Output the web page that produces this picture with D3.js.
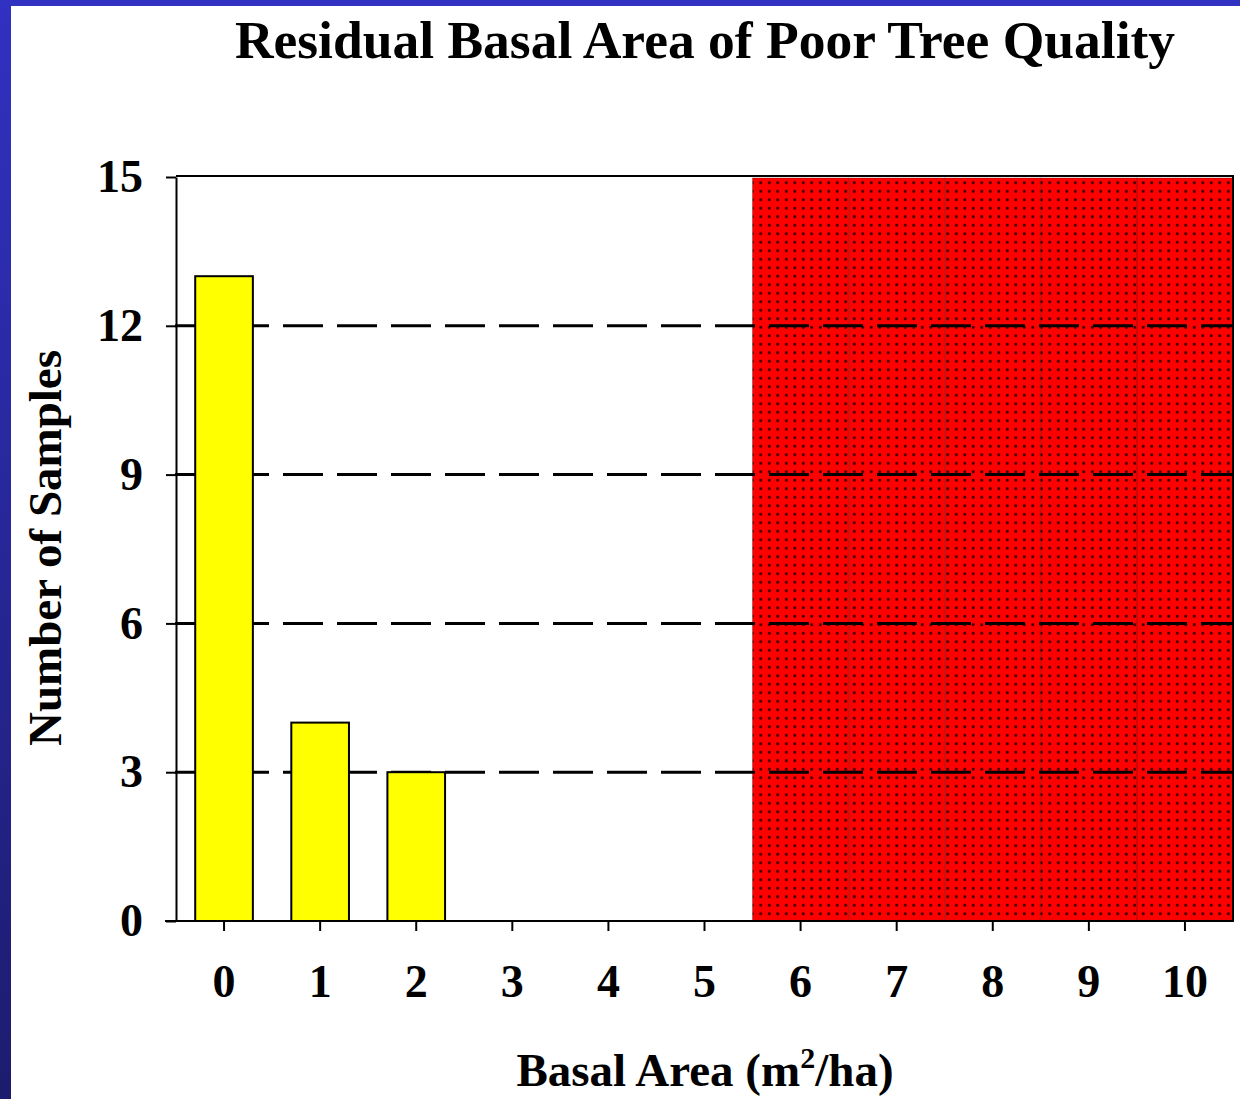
<!DOCTYPE html>
<html>
<head>
<meta charset="utf-8">
<script src="https://cdn.jsdelivr.net/npm/d3@7"></script>
<style>
  body { margin: 0; background: #fff; }
  svg { display: block; }
  text { font-family: "Times New Roman", "Liberation Serif", serif; font-weight: bold; fill: #000; }
</style>
</head>
<body>
<svg id="chart" width="1240" height="1099"></svg>
<script>
// data
var categories = ["0", "1", "2", "3", "4", "5", "6", "7", "8", "9", "10"];
var sampleCounts = [13, 4, 3, 0, 0, 0, 0, 0, 0, 0, 0];
var shadedCategories = ["6", "7", "8", "9", "10"];
var shadedTop = 15;
var yTicks = [0, 3, 6, 9, 12, 15];
var gridValues = [3, 6, 9, 12];

var svg = d3.select("#chart");
var w = +svg.attr("width");
var h = +svg.attr("height");

var defs = svg.append("defs");
var grad = defs.append("linearGradient").attr("id", "slideBg")
    .attr("x1", 0).attr("y1", 0).attr("x2", 0).attr("y2", 1);
grad.append("stop").attr("offset", "0%").attr("stop-color", "#3131c2");
grad.append("stop").attr("offset", "100%").attr("stop-color", "#1c1c6e");

var dots = defs.append("pattern").attr("id", "dots")
    .attr("patternUnits", "userSpaceOnUse")
    .attr("width", 8.5).attr("height", 8.5);
dots.append("rect").attr("width", 8.5).attr("height", 8.5).attr("fill", "#ff0000");
dots.append("rect").attr("x", 3).attr("y", 3).attr("width", 2.5).attr("height", 2.5)
    .attr("fill", "#000").attr("opacity", 0.85);

// slide background with blue border on top and left
svg.append("rect").attr("width", w).attr("height", h).attr("fill", "url(#slideBg)");
svg.append("rect").attr("x", 11).attr("y", 6).attr("width", w - 11).attr("height", h - 6).attr("fill", "#fff");

// scales
var plotLeft = 176, plotRight = 1233, plotTop = 177, plotBottom = 921;
var x = d3.scaleBand().domain(categories).range([plotLeft, plotRight]).padding(0);
var y = d3.scaleLinear().domain([0, 15]).range([plotBottom, plotTop]);
var barW = x.bandwidth() * 0.6;

// shaded (unacceptable) zone
svg.append("g").selectAll("rect")
    .data(shadedCategories)
    .enter()
    .append("rect")
    .attr("x", function (d) { return x(d); })
    .attr("y", y(shadedTop) + 1)
    .attr("width", x.bandwidth())
    .attr("height", y(0) - y(shadedTop) - 1)
    .attr("fill", "url(#dots)")
    .attr("stroke", "rgba(90,0,0,0.35)")
    .attr("stroke-width", 1);

// dashed grid lines
svg.append("g").selectAll("line")
    .data(gridValues)
    .enter()
    .append("line")
    .attr("x1", plotLeft - 1).attr("x2", plotRight + 1)
    .attr("y1", function (d) { return y(d); })
    .attr("y2", function (d) { return y(d); })
    .attr("stroke", "#000")
    .attr("stroke-width", 3)
    .attr("stroke-dasharray", "40,14");

// yellow bars
svg.append("g").selectAll("rect")
    .data(sampleCounts.filter(function (d) { return d > 0; }))
    .enter()
    .append("rect")
    .attr("x", function (d, i) { return x(categories[i]) + (x.bandwidth() - barW) / 2; })
    .attr("y", function (d) { return y(d); })
    .attr("width", barW)
    .attr("height", function (d) { return y(0) - y(d); })
    .attr("fill", "#ffff00")
    .attr("stroke", "#000")
    .attr("stroke-width", 2);

// frame: top and right
svg.append("line").attr("x1", plotLeft).attr("x2", plotRight + 1).attr("y1", plotTop - 1).attr("y2", plotTop - 1)
    .attr("stroke", "#000").attr("stroke-width", 2);
svg.append("line").attr("x1", plotRight).attr("x2", plotRight).attr("y1", plotTop - 1).attr("y2", plotBottom)
    .attr("stroke", "#000").attr("stroke-width", 2);

// axes
var yAxis = d3.axisLeft(y).tickValues(yTicks).tickSize(10).tickSizeOuter(0).tickPadding(23);
var xAxis = d3.axisBottom(x).tickSize(10).tickSizeOuter(0).tickPadding(33);

var gy = svg.append("g").attr("transform", "translate(" + plotLeft + ",0)").call(yAxis);
var gx = svg.append("g").attr("transform", "translate(0," + plotBottom + ")").call(xAxis);

[gx, gy].forEach(function (g) {
    g.select(".domain").attr("stroke", "#000").attr("stroke-width", 2);
    g.selectAll(".tick line").attr("stroke", "#000").attr("stroke-width", 2);
    g.selectAll(".tick text")
        .attr("font-family", "'Times New Roman', 'Liberation Serif', serif")
        .attr("font-weight", "bold")
        .attr("font-size", 46)
        .attr("fill", "#000");
});
gx.select(".domain").attr("d", "M" + (plotLeft - 11) + ",0H" + (plotRight + 1));

// titles
svg.append("text")
    .attr("x", 705).attr("y", 58)
    .attr("text-anchor", "middle")
    .attr("font-size", 53.5)
    .text("Residual Basal Area of Poor Tree Quality");

var xl = svg.append("text")
    .attr("x", 705).attr("y", 1086)
    .attr("text-anchor", "middle")
    .attr("font-size", 47);
xl.append("tspan").text("Basal Area (m");
xl.append("tspan").attr("font-size", 30).attr("dy", -18).text("2");
xl.append("tspan").attr("dy", 18).text("/ha)");

svg.append("text")
    .attr("transform", "translate(61,548) rotate(-90)")
    .attr("text-anchor", "middle")
    .attr("font-size", 47)
    .text("Number of Samples");
</script>
</body>
</html>
